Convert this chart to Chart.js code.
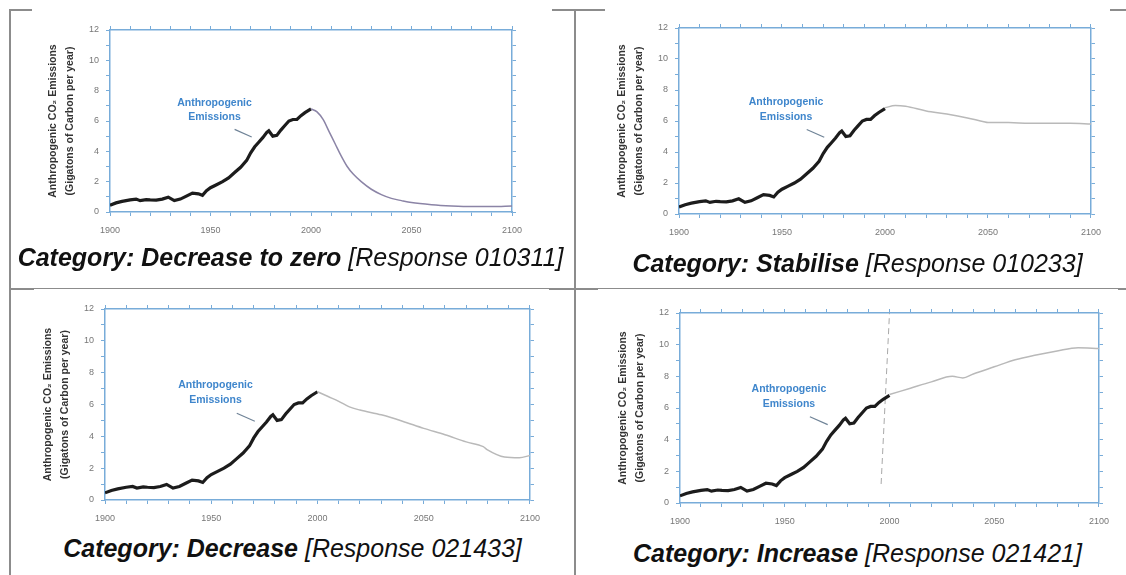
<!DOCTYPE html>
<html>
<head>
<meta charset="utf-8">
<script src="https://cdn.jsdelivr.net/npm/chart.js@4.4.0/dist/chart.umd.min.js"></script>
<style>
  html, body { margin: 0; padding: 0; background: #fff; width: 1126px; height: 575px; overflow: hidden; }
  .rule { position: absolute; background: #8c8c8c; }
  .panel { position: absolute; background: #fff; }
  .cap {
    position: absolute; text-align: center; white-space: nowrap;
    font-family: "Liberation Sans", Arial, sans-serif; font-size: 25px; line-height: 30px; color: #111;
  }
  .cap b { font-weight: bold; font-style: italic; }
  .cap i { font-style: italic; }
</style>
</head>
<body>
<!-- table rules, mostly hidden behind the white chart images -->
<div class="rule" style="left:9px;top:9px;width:2px;height:566px"></div>
<div class="rule" style="left:574px;top:9px;width:2px;height:566px"></div>
<div class="rule" style="left:9px;top:9px;width:1117px;height:2px"></div>
<div class="rule" style="left:9px;top:288px;width:1117px;height:2px"></div>

<div class="panel" style="left:32px;top:2px;width:520px;height:245px"><canvas id="c1" width="520" height="245"></canvas></div>
<div class="panel" style="left:605px;top:2px;width:505px;height:248px"><canvas id="c2" width="505" height="248"></canvas></div>
<div class="panel" style="left:34px;top:289px;width:515px;height:243px"><canvas id="c3" width="515" height="243"></canvas></div>
<div class="panel" style="left:598px;top:289px;width:520px;height:248px"><canvas id="c4" width="520" height="248"></canvas></div>

<div class="cap" style="left:8px;width:565px;top:242px"><b>Category: Decrease to zero</b> <i>[Response 010311]</i></div>
<div class="cap" style="left:575px;width:565px;top:248px"><b>Category: Stabilise</b> <i>[Response 010233]</i></div>
<div class="cap" style="left:10px;width:565px;top:533px"><b>Category: Decrease</b> <i>[Response 021433]</i></div>
<div class="cap" style="left:575px;width:565px;top:538px"><b>Category: Increase</b> <i>[Response 021421]</i></div>

<script>
// Observed emissions 1900-2000 (GtC/yr), same in every panel
const histYears = [1900, 1903, 1906, 1910, 1913, 1915, 1918, 1920, 1923, 1926, 1929, 1932, 1935, 1938,
  1941, 1944, 1946, 1948, 1950, 1953, 1956, 1959, 1962, 1965, 1968, 1970, 1972, 1974, 1976, 1978,
  1979, 1981, 1983, 1985, 1987, 1989, 1991, 1993, 1995, 1997, 2000];
const histValues = [0.45, 0.6, 0.7, 0.8, 0.85, 0.75, 0.82, 0.8, 0.78, 0.85, 0.98, 0.75, 0.85, 1.05,
  1.25, 1.2, 1.1, 1.4, 1.6, 1.8, 2.0, 2.25, 2.6, 2.95, 3.4, 3.9, 4.3, 4.6, 4.9, 5.25,
  5.35, 5.0, 5.05, 5.4, 5.7, 6.0, 6.1, 6.1, 6.35, 6.55, 6.8];

// Drawn responses 2000-2100
const zeroYears = [2000, 2003, 2006, 2009, 2012, 2015, 2018, 2021, 2025, 2030, 2035, 2040, 2045, 2050, 2060, 2070, 2080, 2090, 2100];
const zeroValues = [6.8, 6.6, 6.1, 5.3, 4.5, 3.7, 3.0, 2.5, 2.0, 1.5, 1.15, 0.9, 0.75, 0.62, 0.48, 0.4, 0.36, 0.36, 0.4];

const stabYears = [2000, 2005, 2010, 2020, 2030, 2040, 2048, 2050, 2060, 2070, 2080, 2090, 2100];
const stabValues = [6.85, 7.0, 6.95, 6.65, 6.45, 6.2, 5.95, 5.9, 5.9, 5.85, 5.85, 5.85, 5.8];

const decYears = [2000, 2005, 2010, 2015, 2020, 2030, 2040, 2050, 2060, 2070, 2078, 2080, 2088, 2095, 2100];
const decValues = [6.8, 6.5, 6.2, 5.85, 5.65, 5.35, 4.95, 4.5, 4.1, 3.65, 3.35, 3.15, 2.7, 2.65, 2.8];

const incYears = [2000, 2010, 2020, 2030, 2035, 2040, 2050, 2060, 2070, 2080, 2090, 2100];
const incValues = [6.85, 7.25, 7.65, 8.0, 7.9, 8.15, 8.6, 9.05, 9.35, 9.6, 9.8, 9.75];

// faint dashed pencil stroke in the "Increase" panel
const strokeYears = [1996, 2000];
const strokeValues = [1.2, 12];

// axes
const xMin = 1900, xMax = 2100, xStep = 10, xLabelEvery = 50;
const yMin = 0, yMax = 12, yStep = 1, yLabelEvery = 2;
const yTitle = ["Anthropogenic CO\u2082 Emissions", "(Gigatons of Carbon per year)"];

// "Anthropogenic Emissions" label, in data units
const labelLines = ["Anthropogenic", "Emissions"];
const labelX = 1952, labelY = [7.2, 6.25];
const pointerFrom = [1962, 5.45], pointerTo = [1970.5, 4.95];

const AXIS_BLUE = "#78acd9";
const pts = (xs, ys) => xs.map((x, i) => ({ x, y: ys[i] }));

const annotate = {
  id: "annotate",
  afterDatasetsDraw(chart) {
    const { ctx, scales } = chart;
    const x = scales.x, y = scales.y;
    ctx.save();
    ctx.fillStyle = "#3f86cc";
    ctx.font = "bold 10.5px 'Liberation Sans', Arial, sans-serif";
    ctx.textAlign = "center";
    ctx.textBaseline = "middle";
    labelLines.forEach((t, i) => ctx.fillText(t, x.getPixelForValue(labelX), y.getPixelForValue(labelY[i])));
    ctx.strokeStyle = "#6f8397";
    ctx.lineWidth = 1.2;
    ctx.beginPath();
    ctx.moveTo(x.getPixelForValue(pointerFrom[0]), y.getPixelForValue(pointerFrom[1]));
    ctx.lineTo(x.getPixelForValue(pointerTo[0]), y.getPixelForValue(pointerTo[1]));
    ctx.stroke();
    ctx.restore();
  },
};

function fixed(size) {
  return (s) => { if (s.isHorizontal()) s.height = size; else s.width = size; };
}

function buildPanel(id, box, projection, extra) {
  const datasets = [
    { data: pts(projection.xs, projection.ys), borderColor: projection.color, borderWidth: projection.width,
      cubicInterpolationMode: "monotone", pointRadius: 0 },
    { data: pts(histYears, histValues), borderColor: "#1c1c1c", borderWidth: 3.2, pointRadius: 0, tension: 0 },
  ];
  if (extra) datasets.push(extra);

  const tickFont = { family: "'Liberation Sans', Arial, sans-serif", size: 9 };
  const grid = { drawOnChartArea: false, drawTicks: true, tickLength: 4, color: AXIS_BLUE, tickColor: AXIS_BLUE };
  const border = { display: true, color: AXIS_BLUE, width: 1.5 };

  return new Chart(document.getElementById(id), {
    type: "line",
    data: { datasets },
    options: {
      responsive: false,
      animation: false,
      events: [],
      layout: { padding: 0 },
      plugins: { legend: { display: false }, tooltip: { enabled: false } },
      scales: {
        x: {
          type: "linear", position: "bottom", min: xMin, max: xMax,
          ticks: { stepSize: xStep, autoSkip: false, color: "#777", font: tickFont, padding: 9, maxRotation: 0,
            callback: (v) => (v % xLabelEvery === 0 ? String(v) : "") },
          grid, border, afterFit: fixed(box.bottom),
        },
        x2: {
          type: "linear", position: "top", min: xMin, max: xMax,
          ticks: { stepSize: xStep, autoSkip: false, display: false },
          grid, border, afterFit: fixed(box.top),
        },
        y: {
          type: "linear", position: "left", min: yMin, max: yMax,
          ticks: { stepSize: yStep, autoSkip: false, color: "#777", font: tickFont, padding: 7,
            callback: (v) => (v % yLabelEvery === 0 ? String(v) : "") },
          grid, border, afterFit: fixed(box.left),
          title: { display: true, text: yTitle, color: "#333",
            font: { family: "'Liberation Sans', Arial, sans-serif", size: 10.5, weight: "bold", lineHeight: 1.6 },
            padding: { top: box.titlePad, bottom: 0 } },
        },
        y2: {
          type: "linear", position: "right", min: yMin, max: yMax,
          ticks: { stepSize: yStep, autoSkip: false, display: false },
          grid, border, afterFit: fixed(box.right),
        },
      },
    },
    plugins: [annotate],
  });
}

const purple = "#8b84a6", grey = "#b9b9b9";

buildPanel("c1", { left: 78, top: 28, right: 40, bottom: 35, titlePad: 13 },
  { xs: zeroYears, ys: zeroValues, color: purple, width: 1.5 });
buildPanel("c2", { left: 74, top: 26, right: 19, bottom: 36, titlePad: 9 },
  { xs: stabYears, ys: stabValues, color: grey, width: 1.5 });
buildPanel("c3", { left: 71, top: 20, right: 19, bottom: 32, titlePad: 6 },
  { xs: decYears, ys: decValues, color: grey, width: 1.5 });
buildPanel("c4", { left: 82, top: 24, right: 19, bottom: 34, titlePad: 17 },
  { xs: incYears, ys: incValues, color: grey, width: 1.5 },
  { data: pts(strokeYears, strokeValues), borderColor: "#a8a8a8", borderWidth: 1, borderDash: [6, 4], pointRadius: 0 });
</script>
</body>
</html>
